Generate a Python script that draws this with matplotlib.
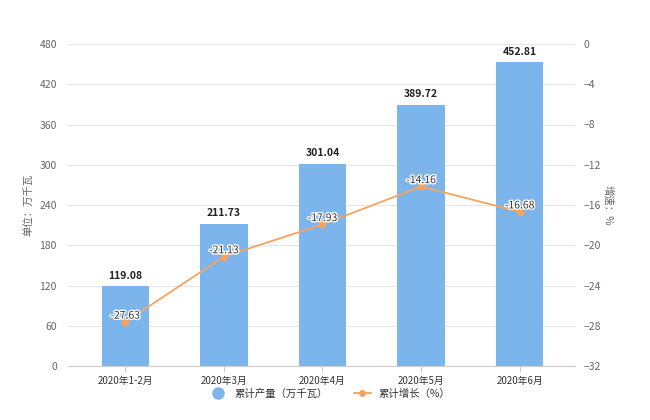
import matplotlib
matplotlib.use('Agg')
import matplotlib.pyplot as plt
import matplotlib.patheffects as pe
from matplotlib.lines import Line2D
import numpy as np

plt.rcParams['font.family'] = ['Noto Sans CJK SC', 'DejaVu Sans']

months = ['2020年1-2月', '2020年3月', '2020年4月', '2020年5月', '2020年6月']
output = [119.08, 211.73, 301.04, 389.72, 452.81]   # 累计产量 万千瓦
growth = [-27.63, -21.13, -17.93, -14.16, -16.68]   # 累计增长 %

bar_color = '#7cb5ec'
line_color = '#f7a35c'
grey = '#666666'

fig = plt.figure(figsize=(6.5, 4.2), dpi=100)
ax = fig.add_axes([68/650, 1 - 366/420, 507/650, 322/420])
ax2 = ax.twinx()

x = np.arange(len(months))
ax.bar(x, output, width=0.48, color=bar_color, zorder=2)
for xi, v in zip(x, output):
    ax.annotate('%.2f' % v, (xi, v), xytext=(0, 4), textcoords='offset points',
                ha='center', va='bottom', fontsize=7.5, fontweight='bold', color='#222222')

ax.set_xlim(-0.58, 4.56)
ax.set_ylim(0, 480)
ax.set_yticks(range(0, 481, 60))
ax.set_xticks(x)
ax.set_xticklabels(months, fontsize=7, color='#333333')
ax.grid(axis='y', color='#e6e6e6', linewidth=0.8, zorder=0)
ax.set_axisbelow(True)
ax.tick_params(axis='y', length=0, labelsize=7.5, labelcolor=grey, pad=8)
ax.tick_params(axis='x', length=4, color='#cccccc', pad=3)
for s in ['top', 'right', 'left']:
    ax.spines[s].set_visible(False)
ax.spines['bottom'].set_color('#cccccc')
ax.set_ylabel('单位：万千瓦', fontsize=7.5, color=grey)
ax.yaxis.set_label_coords(-0.069, 0.5)

ax2.plot(x, growth, color=line_color, linewidth=1.3, marker='o', markersize=4.5, zorder=3)
for xi, v in zip(x, growth):
    ax2.annotate('%.2f' % v, (xi, v), xytext=(0, 1), textcoords='offset points',
                 ha='center', va='bottom', fontsize=7.5, color='#333333',
                 path_effects=[pe.withStroke(linewidth=2, foreground='white')])
ax2.set_ylim(-32, 0)
ax2.set_yticks(range(-32, 1, 4))
ax2.tick_params(axis='y', length=0, labelsize=7.5, labelcolor=grey, pad=6)
for s in ['top', 'right', 'left', 'bottom']:
    ax2.spines[s].set_visible(False)
ax2.set_ylabel('增速：%', fontsize=7.5, color=grey, rotation=270, va='center')
ax2.yaxis.set_label_coords(1.065, 0.5)

handles = [Line2D([], [], color=bar_color, marker='o', linestyle='', markersize=8),
           Line2D([], [], color=line_color, marker='o', markersize=4, linewidth=1.3)]
fig.legend(handles, ['累计产量（万千瓦）', '累计增长（%）'], loc='center',
           bbox_to_anchor=(330/650, 1 - 394/420), ncol=2, frameon=False,
           fontsize=7.5, handlelength=1.6, columnspacing=2.5, labelcolor='#333333')

fig.savefig('out.png', dpi=100)
